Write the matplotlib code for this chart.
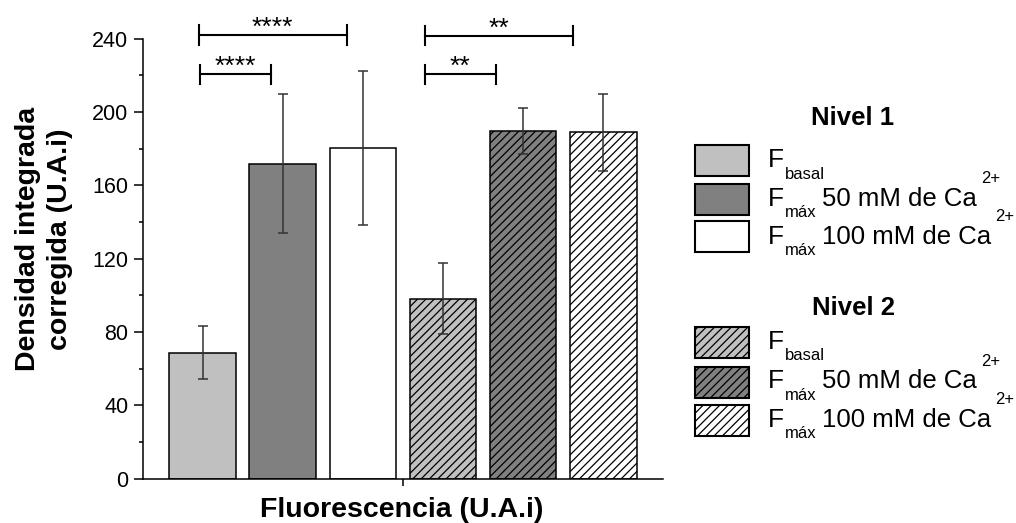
import matplotlib
matplotlib.use('Agg')
import matplotlib.pyplot as plt
from matplotlib.patches import Rectangle
from matplotlib.ticker import MultipleLocator

plt.rcParams['font.family'] = ['Liberation Sans', 'DejaVu Sans']
plt.rcParams['hatch.linewidth'] = 0.9

# Data
groups = ['Nivel 1', 'Nivel 2']
means = [68.7, 171.8, 180.5, 98.2, 189.6, 188.8]
errors = [14.5, 38.0, 42.0, 19.3, 12.5, 21.0]
fills = ['#c0c0c0', '#808080', '#ffffff', '#c0c0c0', '#808080', '#ffffff']
hatches = [None, None, None, '////', '////', '////']

# Legend label pieces: F_sub main^sup
sub_labels = ['basal', 'máx', 'máx']
main_labels = ['', '50 mM de Ca', '100 mM de Ca']
sup_labels = ['', '2+', '2+']

# Significance brackets: (x start, x end, y, stars)
brackets = [(-0.05, 1.80, 242.0, '****'),
            (-0.04, 0.85, 220.5, '****'),
            (2.77, 4.62, 241.5, '**'),
            (2.77, 3.66, 220.5, '**')]

W, H = 1016, 523


def fx(px):
    return px / W


def fy(py):
    return 1 - py / H


fig = plt.figure(figsize=(W / 100, H / 100), dpi=100)
ax = fig.add_axes([fx(142.5), fy(478.7), (663 - 142.5) / W, (478.7 - 38.5) / H])

x = list(range(len(means)))
bars = ax.bar(x, means, width=0.833, color=fills, edgecolor='black', linewidth=1.1,
              zorder=2)
# hatch per bar
for patch, h in zip(bars, hatches):
    if h:
        patch.set_hatch(h)
ax.errorbar(x, means, yerr=errors, fmt='none', ecolor='#333333', elinewidth=1.1,
            capsize=3.5, capthick=1.1, zorder=3)

# brackets
for x0, x1, y, stars in brackets:
    ax.plot([x0, x1], [y, y], color='black', lw=1.5, clip_on=False)
    for xe in (x0, x1):
        ax.plot([xe, xe], [y - 5.3, y + 5.3], color='black', lw=1.5, clip_on=False)
    ax.text((x0 + x1) / 2, y, stars, ha='center', va='baseline', fontsize=19)

ax.set_xlim(-0.752, 5.747)
ax.set_ylim(0, 240)
ax.yaxis.set_major_locator(MultipleLocator(40))
ax.yaxis.set_minor_locator(MultipleLocator(20))
ax.set_xticks([2.5])
ax.set_xticklabels([''])
ax.tick_params(axis='y', which='major', length=6.5, width=1.1, pad=3.6, labelsize=15.5)
ax.tick_params(axis='y', which='minor', length=3.2, width=1.1)
ax.tick_params(axis='x', which='major', length=5, width=1.1)
for s in ['top', 'right']:
    ax.spines[s].set_visible(False)
for s in ['left', 'bottom']:
    ax.spines[s].set_linewidth(1.1)

# axis labels
fig.text(fx(44), fy(239), 'Densidad integrada\ncorregida (U.A.i)', rotation=90,
         ha='center', va='center', fontsize=20.5, fontweight='bold',
         multialignment='center', linespacing=1.3)
fig.text(fx(402), fy(517), 'Fluorescencia (U.A.i)', ha='center', va='baseline',
         fontsize=20.5, fontweight='bold')

# legends (two groups)
renderer = fig.canvas.get_renderer()
row_tops = [[145, 183.5, 221.5], [327, 366.5, 405]]
title_base = [125, 315]
for g in range(2):
    fig.text(fx(853), fy(title_base[g]), groups[g], ha='center', va='baseline',
             fontsize=18.5, fontweight='bold')
    for k in range(3):
        i = 3 * g + k
        top = row_tops[g][k]
        fig.add_artist(Rectangle((fx(695), fy(top + 31)), 54 / W, 31 / H,
                                 transform=fig.transFigure, facecolor=fills[i],
                                 hatch=hatches[i], edgecolor='black', lw=1.5))
        base = top + 22
        tF = fig.text(fx(768), fy(base), 'F', fontsize=19, va='baseline')
        bb = tF.get_window_extent(renderer)
        fig.text((bb.x1 + 1) / W, fy(base + 11.5), sub_labels[k], fontsize=12,
                 va='baseline')
        if main_labels[k]:
            tm = fig.text(fx(822), fy(base), main_labels[k], fontsize=18.5,
                          va='baseline')
            bm = tm.get_window_extent(renderer)
            fig.text((bm.x1 + 4) / W, fy(base - 22.5), sup_labels[k], fontsize=12,
                     va='baseline')

fig.savefig('out.png', dpi=100)
plt.close(fig)
